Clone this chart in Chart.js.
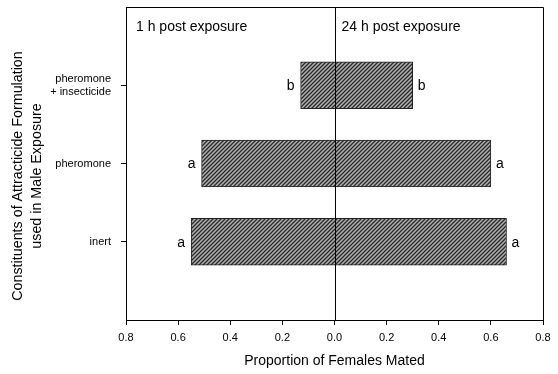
<!DOCTYPE html>
<html>
<head>
<meta charset="utf-8">
<script src="https://cdn.jsdelivr.net/npm/chart.js@4"></script>
<style>
  html, body { margin: 0; padding: 0; background: #fff; }
  #wrap { width: 558px; height: 374px; }
</style>
</head>
<body>
<div id="wrap"><canvas id="chart" width="558" height="374"></canvas></div>
<script>
// categories, top to bottom (empty slots keep the spacing of the original axis)
const categories = ['', ['pheromone', '+ insecticide'], 'pheromone', 'inert', ''];
// proportion of females mated
const oneHour = [null, 0.13, 0.51, 0.55, null];
const twentyFourHour = [null, 0.30, 0.60, 0.66, null];
// letters of significance
const lettersOneHour = ['', 'b', 'a', 'a', ''];
const lettersTwentyFour = ['', 'b', 'a', 'a', ''];
const xTicks = [-0.8, -0.6, -0.4, -0.2, 0, 0.2, 0.4, 0.6, 0.8];
const yTitle = ['Constituents of Attracticide Formulation', 'used in Male Exposure'];

const FONT = 'Arial, "Liberation Sans", Helvetica, sans-serif';

function makeHatch() {
    const c = document.createElement('canvas');
    c.width = 4; c.height = 4;
    const g = c.getContext('2d');
    g.fillStyle = '#b0b0b0';
    g.fillRect(0, 0, 4, 4);
    g.strokeStyle = '#2a2a2a';
    g.lineWidth = 1.3;
    g.beginPath();
    g.moveTo(-1, 5); g.lineTo(5, -1);
    g.moveTo(-1, 1); g.lineTo(1, -1);
    g.moveTo(3, 5); g.lineTo(5, 3);
    g.stroke();
    return g.createPattern(c, 'repeat');
}

// floating bars: 1 h to the left of zero, 24 h to the right
const bars = categories.map((_, i) =>
    oneHour[i] === null ? null : [-oneHour[i], twentyFourHour[i]]);

const extras = {
    id: 'extras',
    afterDatasetsDraw(chart) {
        const { ctx, chartArea: a, scales: { x, y } } = chart;
        ctx.save();
        // frame round the plot
        ctx.strokeStyle = '#000';
        ctx.lineWidth = 1;
        ctx.beginPath();
        ctx.moveTo(a.left, a.top + 0.5);
        ctx.lineTo(a.right + 0.5, a.top + 0.5);
        ctx.lineTo(a.right + 0.5, a.bottom);
        ctx.stroke();

        // zero line
        const x0 = Math.round(x.getPixelForValue(0)) + 0.5;
        ctx.beginPath();
        ctx.moveTo(x0, a.top);
        ctx.lineTo(x0, a.bottom);
        ctx.stroke();

        // panel titles
        ctx.fillStyle = '#000';
        ctx.font = '14px ' + FONT;
        ctx.textBaseline = 'alphabetic';
        ctx.textAlign = 'left';
        ctx.fillText('1 h post exposure', a.left + 10, a.top + 24);
        ctx.fillText('24 h post exposure', x0 + 6, a.top + 24);

        // letters beside the bars
        ctx.textBaseline = 'middle';
        categories.forEach((_, i) => {
            if (oneHour[i] === null) return;
            const yy = y.getPixelForValue(i) + 1;
            ctx.textAlign = 'right';
            ctx.fillText(lettersOneHour[i], x.getPixelForValue(-oneHour[i]) - 6, yy);
            ctx.textAlign = 'left';
            ctx.fillText(lettersTwentyFour[i], x.getPixelForValue(twentyFourHour[i]) + 5, yy);
        });

        // y-axis title, sits a little below the middle of the axis
        ctx.translate(0, 176);
        ctx.rotate(-Math.PI / 2);
        ctx.textAlign = 'center';
        ctx.textBaseline = 'middle';
        ctx.font = '14.3px ' + FONT;
        yTitle.forEach((line, k) => ctx.fillText(line, 0, 18 + k * 19));
        ctx.restore();
    }
};

new Chart(document.getElementById('chart'), {
    type: 'bar',
    data: {
        labels: categories,
        datasets: [{
            data: bars,
            backgroundColor: makeHatch(),
            borderColor: '#222',
            borderWidth: 1,
            borderSkipped: false,
            barThickness: 47
        }]
    },
    options: {
        indexAxis: 'y',
        responsive: false,
        animation: false,
        layout: { padding: { top: 7, right: 15, left: 0, bottom: 0 } },
        plugins: { legend: { display: false }, tooltip: { enabled: false } },
        scales: {
            x: {
                min: -0.8,
                max: 0.8,
                afterBuildTicks(scale) {
                    scale.ticks = xTicks.map(v => ({ value: v }));
                },
                afterFit(scale) {
                    scale.height = 54;
                    scale.paddingLeft = 0;
                    scale.paddingRight = 0;
                },
                border: { display: true, color: '#000', width: 1 },
                grid: { drawOnChartArea: false, drawTicks: true, tickLength: 5, tickColor: '#000' },
                ticks: {
                    color: '#000',
                    padding: 6,
                    font: { family: FONT, size: 11 },
                    callback: v => Math.abs(v).toFixed(1)
                },
                title: {
                    display: true,
                    text: 'Proportion of Females Mated',
                    color: '#000',
                    font: { family: FONT, size: 14 },
                    padding: { top: 11 }
                }
            },
            y: {
                type: 'category',
                offset: false,
                afterFit(scale) {
                    scale.width = 126;
                    scale.paddingTop = 0;
                    scale.paddingBottom = 0;
                },
                border: { display: true, color: '#000', width: 1 },
                grid: {
                    offset: false,
                    drawOnChartArea: false,
                    drawTicks: true,
                    tickLength: 5,
                    tickColor: ctx => (ctx.index > 0 && ctx.index < 4) ? '#000' : 'rgba(0,0,0,0)'
                },
                ticks: {
                    color: '#000',
                    padding: 10,
                    font: { family: FONT, size: 11 },
                    autoSkip: false
                },
                title: { display: false }
            }
        }
    },
    plugins: [extras]
});
</script>
</body>
</html>
